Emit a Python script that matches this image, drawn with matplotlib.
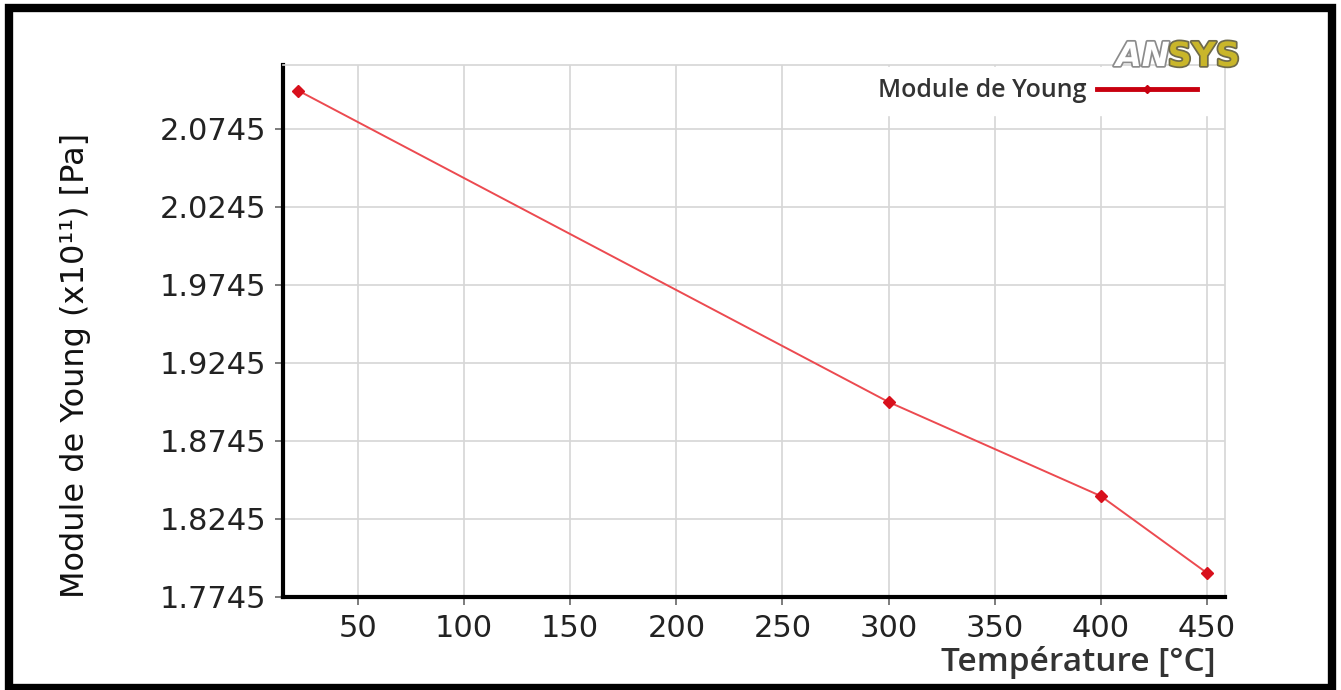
import matplotlib
matplotlib.use("Agg")
import matplotlib.pyplot as plt
from matplotlib import font_manager
from matplotlib.lines import Line2D
from matplotlib.patches import Rectangle
import matplotlib.patheffects as pe

# ---- data ----
temperature = [22, 300, 400, 450]
young_modulus = [2.099, 1.8995, 1.8392, 1.7899]
x_ticks = [50, 100, 150, 200, 250, 300, 350, 400, 450]
y_ticks = [1.7745, 1.8245, 1.8745, 1.9245, 1.9745, 2.0245, 2.0745]
y_tick_labels = ["1.7745", "1.8245", "1.8745", "1.9245", "1.9745", "2.0245", "2.0745"]
series_name = "Module de Young"
x_label = "Température [°C]"
y_label = "Module de Young (x10¹¹) [Pa]"

names = {f.name for f in font_manager.fontManager.ttflist}
narrow = "Liberation Sans Narrow" if "Liberation Sans Narrow" in names else None

W, H = 1341, 690
fig = plt.figure(figsize=(W / 100, H / 100), dpi=100)
fig.patch.set_facecolor("white")

def fx(px):
    return px / W

def fy(py):
    return 1 - py / H

ax = fig.add_axes([fx(283), fy(597), fx(1225) - fx(283), fy(65) - fy(597)])
ax.set_xlim(14.7, 458.5)
ax.set_ylim(1.7745, 2.1155)

ax.plot(temperature, young_modulus, color="#ec4a50", lw=1.4, zorder=3)
ax.plot(temperature, young_modulus, ls="none", marker="D", ms=6.5,
        color="#d8101c", zorder=4)

ax.set_xticks(x_ticks)
ax.set_yticks(y_ticks)
ax.set_yticklabels(y_tick_labels)
ax.tick_params(axis="both", labelsize=22, colors="#222222", length=6, width=1.2,
               pad=6)
ax.tick_params(axis="both", color="#666666")
for lab in ax.get_xticklabels() + ax.get_yticklabels():
    lab.set_fontfamily("DejaVu Sans")

ax.grid(True, color="#d6d6d6", lw=1.2)
ax.set_axisbelow(True)
for s in ["left", "bottom"]:
    ax.spines[s].set_color("black")
    ax.spines[s].set_linewidth(3.0)
for s in ["top", "right"]:
    ax.spines[s].set_color("#d6d6d6")
    ax.spines[s].set_linewidth(1.2)

# x label
ax.set_xlabel(x_label, fontsize=24, fontfamily="Open Sans", fontweight="semibold",
              color="#333333", ha="right")
ax.xaxis.set_label_coords((1216 - 283) / 942, (597 - 646) / 532)

# y label
if narrow:
    fig.text(fx(76), fy(365), y_label, rotation=90, ha="center", va="center",
             fontsize=30, fontfamily=narrow, color="#111111")
else:
    fig.text(fx(76), fy(365), y_label, rotation=90, ha="center", va="center",
             fontsize=23, fontfamily="DejaVu Sans", color="#111111")

# legend
handle = Line2D([], [], color="#c8000f", lw=3.5, marker="D", ms=4.5)
leg = ax.legend([handle], [series_name], loc="upper right",
                bbox_to_anchor=(fx(1208), fy(67)), bbox_transform=fig.transFigure,
                markerfirst=False, frameon=True, fancybox=False, framealpha=1,
                edgecolor="white", facecolor="white", borderpad=0.45,
                handlelength=4.0, handletextpad=0.4, borderaxespad=0,
                prop={"family": "Open Sans", "weight": "semibold", "size": 18})
for t in leg.get_texts():
    t.set_color("#333333")

# ANSYS logo text
t_an = fig.text(fx(1116), fy(66), "AN", fontsize=24, fontweight="bold",
                fontstyle="italic", color="white", ha="left", va="baseline",
                fontfamily="DejaVu Sans",
                path_effects=[pe.withStroke(linewidth=2.5, foreground="#8c8c8c")])
fig.canvas.draw()
bb = t_an.get_window_extent()
fig.text(bb.x1 / W - fx(2), fy(66), "SYS", fontsize=24, fontweight="bold",
         color="#c9b62a", ha="left", va="baseline", fontfamily="DejaVu Sans",
         path_effects=[pe.withStroke(linewidth=2.5, foreground="#6e6a4a")])

# frame around the figure
fig.patches.append(Rectangle((fx(9), fy(688)), fx(1332) - fx(9), fy(8) - fy(688),
                             transform=fig.transFigure, fill=False,
                             edgecolor="black", lw=6, zorder=10))

fig.savefig("out.png", dpi=100)
